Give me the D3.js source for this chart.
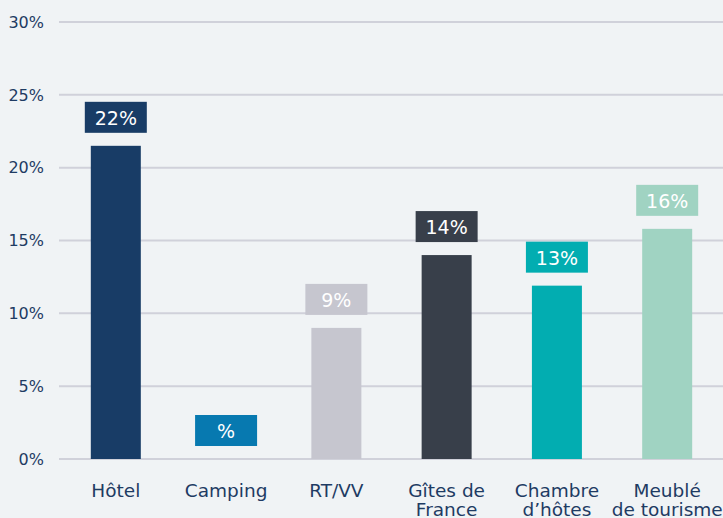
<!DOCTYPE html>
<html>
<head>
<meta charset="utf-8">
<script src="https://cdn.jsdelivr.net/npm/d3@7"></script>
<style>
  html, body { margin: 0; padding: 0; background: #f0f3f5; }
  svg { display: block; }
</style>
</head>
<body>
<div id="chart"></div>
<script>
// data
const categories = ["Hôtel", "Camping", "RT/VV", "Gîtes de France", "Chambre d'hôtes", "Meublé de tourisme"];
const categoryLines = [["Hôtel"], ["Camping"], ["RT/VV"], ["Gîtes de", "France"], ["Chambre", "d’hôtes"], ["Meublé", "de tourisme"]];
const values = [21.5, 0, 9.0, 14.0, 11.9, 15.8];
const valueLabels = ["22%", "%", "9%", "14%", "13%", "16%"];
const colors = ["#183c66", "#0779b0", "#c6c6cf", "#383f4a", "#02adb1", "#a0d3c2"];
const yTicks = [0, 5, 10, 15, 20, 25, 30];

const width = 723, height = 518;
const textColor = "#1e3b63";
const font = "'DejaVu Sans', sans-serif";

const svg = d3.select("#chart").append("svg")
    .attr("width", width)
    .attr("height", height)
    .style("background", "#f0f3f5");

const x = d3.scaleBand()
    .domain(categories)
    .range([61, 722])
    .paddingInner(0.546)
    .paddingOuter(0.27);

const y = d3.scaleLinear()
    .domain([0, 30])
    .range([459, 22]);

// grid lines
svg.append("g")
    .selectAll("line")
    .data(yTicks)
    .join("line")
    .attr("x1", 59)
    .attr("x2", width)
    .attr("y1", d => y(d))
    .attr("y2", d => y(d))
    .attr("stroke", "#d0d1da")
    .attr("stroke-width", 2);

// y tick labels
svg.append("g")
    .selectAll("text")
    .data(yTicks)
    .join("text")
    .attr("x", 44)
    .attr("y", d => y(d))
    .attr("dy", "0.36em")
    .attr("text-anchor", "end")
    .attr("font-family", font)
    .attr("font-size", 16)
    .attr("fill", textColor)
    .text(d => d + "%");

const barW = 50;
const cx = d => x(d) + x.bandwidth() / 2;

// bars
svg.append("g")
    .selectAll("rect")
    .data(categories)
    .join("rect")
    .attr("x", d => cx(d) - barW / 2)
    .attr("width", barW)
    .attr("y", (d, i) => y(values[i]))
    .attr("height", (d, i) => y(0) - y(values[i]))
    .attr("fill", (d, i) => colors[i]);

// value label boxes
const boxW = 62, boxH = 31, gap = 13;
const labels = svg.append("g")
    .selectAll("g")
    .data(categories)
    .join("g")
    .attr("transform", (d, i) => `translate(${cx(d)},${y(values[i]) - gap - boxH})`);

labels.append("rect")
    .attr("x", -boxW / 2)
    .attr("width", boxW)
    .attr("height", boxH)
    .attr("fill", (d, i) => colors[i]);

labels.append("text")
    .attr("y", 23)
    .attr("text-anchor", "middle")
    .attr("font-family", font)
    .attr("font-size", 19)
    .attr("fill", "#ffffff")
    .text((d, i) => valueLabels[i]);

// x axis labels
svg.append("g")
    .selectAll("text")
    .data(categories)
    .join("text")
    .attr("x", d => cx(d))
    .attr("y", 497)
    .attr("text-anchor", "middle")
    .attr("font-family", font)
    .attr("font-size", 18.5)
    .attr("fill", textColor)
    .selectAll("tspan")
    .data((d, i) => categoryLines[i])
    .join("tspan")
    .attr("x", function () { return d3.select(this.parentNode).attr("x"); })
    .attr("dy", (d, j) => j === 0 ? 0 : 19)
    .text(d => d);
</script>
</body>
</html>
